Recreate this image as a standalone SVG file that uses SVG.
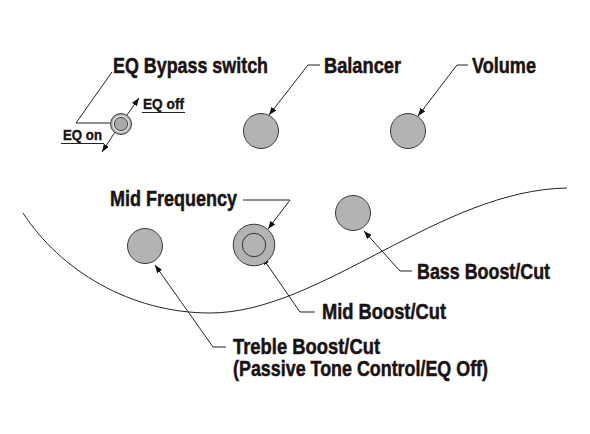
<svg xmlns="http://www.w3.org/2000/svg" width="590" height="434" viewBox="0 0 590 434">
<style>
.lbl{font-family:"Liberation Sans",Arial,sans-serif;font-weight:bold;font-size:22px;fill:#1a1311;stroke:#1a1311;stroke-width:0.5}
.sm{font-family:"Liberation Sans",Arial,sans-serif;font-weight:bold;font-size:15.5px;fill:#1a1311;stroke:#1a1311;stroke-width:0.4}
.knob{fill:#b3b3b3;stroke:#3a3a3a;stroke-width:1}
.ld{fill:none;stroke:#222;stroke-width:1}
.ul{stroke:#222;stroke-width:1.2}
</style>
<defs>
<marker id="ah" markerUnits="userSpaceOnUse" markerWidth="9" markerHeight="7" refX="8" refY="3" orient="auto">
<path d="M0,0 L8,3 L0,6 z" fill="#111"/>
</marker>
</defs>
<rect width="590" height="434" fill="#fff"/>
<path d="M23,213 C60,270 130,313 210,313 C320,313 440,190 567,188" fill="none" stroke="#222" stroke-width="1"/>
<g id="connectors">
<polyline class="ld" points="112,72 76,123 110,123"/>
<line class="ld" x1="127" y1="115" x2="139" y2="98" marker-end="url(#ah)"/>
<line class="ld" x1="115" y1="132" x2="102" y2="152" marker-end="url(#ah)"/>
<polyline class="ld" points="320,65 308,65 269,115" marker-end="url(#ah)"/>
<polyline class="ld" points="468,65 457,65 418,116" marker-end="url(#ah)"/>
<polyline class="ld" points="243,200 290,200 268,229" marker-end="url(#ah)"/>
<polyline class="ld" points="226,347 213,347 155,265" marker-end="url(#ah)"/>
<polyline class="ld" points="315,312 300,312 262,257" marker-end="url(#ah)"/>
<polyline class="ld" points="412,271 400,271 364,231" marker-end="url(#ah)"/>
</g>
<g id="eq-switch">
<circle class="knob" cx="121" cy="124" r="10.5"/>
<circle cx="121" cy="124" r="7.8" fill="none" stroke="#e2e2e2" stroke-width="1.2"/>
<circle cx="121" cy="124" r="6.6" fill="#a9a9a9" stroke="#333" stroke-width="0.8"/>
<text class="lbl" x="113" y="73" textLength="155" lengthAdjust="spacingAndGlyphs">EQ Bypass switch</text>
<text class="sm" x="143" y="109" textLength="41" lengthAdjust="spacingAndGlyphs">EQ off</text>
<line class="ul" x1="142" y1="112.5" x2="185" y2="112.5"/>
<text class="sm" x="63" y="140" textLength="39" lengthAdjust="spacingAndGlyphs">EQ on</text>
<line class="ul" x1="61" y1="143.5" x2="104" y2="143.5"/>
</g>
<g id="balancer">
<circle class="knob" cx="261" cy="131" r="17.5"/>
<text class="lbl" x="324" y="73" textLength="77" lengthAdjust="spacingAndGlyphs">Balancer</text>
</g>
<g id="volume">
<circle class="knob" cx="408" cy="131" r="17.5"/>
<text class="lbl" x="472" y="73" textLength="64" lengthAdjust="spacingAndGlyphs">Volume</text>
</g>
<g id="treble">
<circle class="knob" cx="145" cy="246" r="17.5"/>
<text class="lbl" x="233" y="354" textLength="147" lengthAdjust="spacingAndGlyphs">Treble Boost/Cut</text>
<text class="lbl" x="233" y="376" textLength="255" lengthAdjust="spacingAndGlyphs">(Passive Tone Control/EQ Off)</text>
</g>
<g id="mid">
<circle class="knob" cx="254" cy="245" r="20.8"/>
<circle cx="254" cy="245" r="11.7" fill="none" stroke="#333" stroke-width="1"/>
<text class="lbl" x="110" y="206" textLength="127" lengthAdjust="spacingAndGlyphs">Mid Frequency</text>
<text class="lbl" x="322" y="319" textLength="124" lengthAdjust="spacingAndGlyphs">Mid Boost/Cut</text>
</g>
<g id="bass">
<circle class="knob" cx="353" cy="213" r="17.5"/>
<text class="lbl" x="417" y="279" textLength="133" lengthAdjust="spacingAndGlyphs">Bass Boost/Cut</text>
</g>
</svg>
